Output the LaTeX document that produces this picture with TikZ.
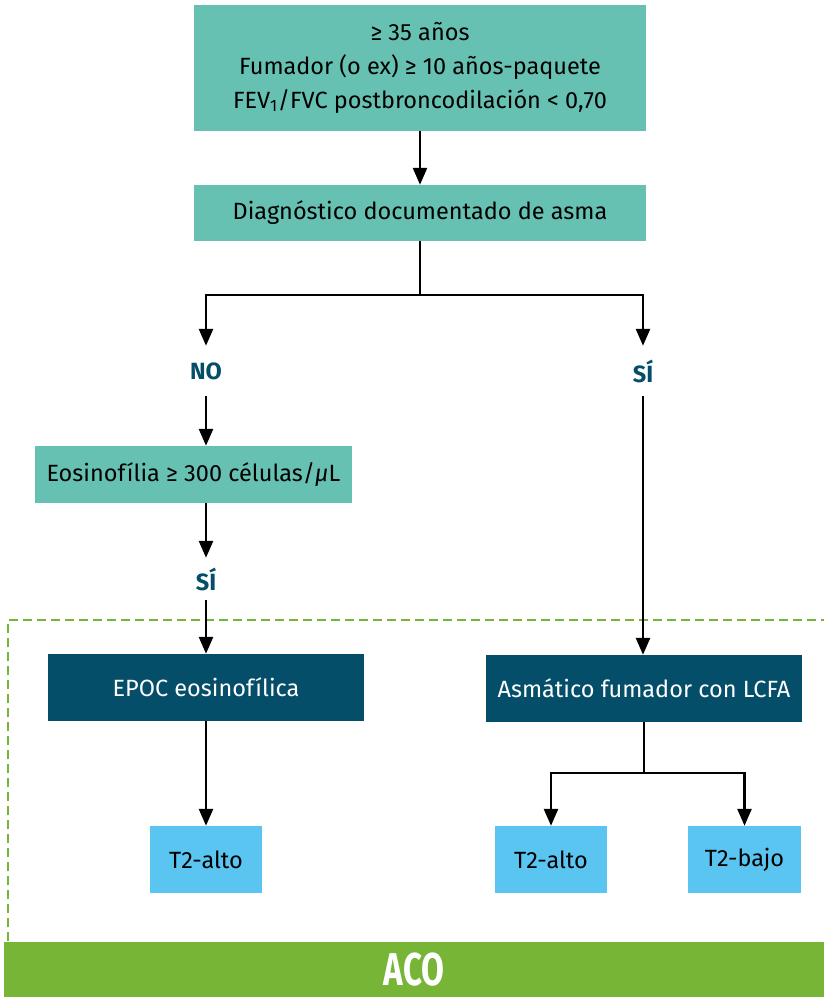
\documentclass[tikz,border=0pt]{standalone}
\usepackage{fontspec}
\setmainfont{Fira Sans}
\usetikzlibrary{arrows.meta,positioning,calc}
\definecolor{tealcol}{HTML}{67C1B3}
\definecolor{darkcol}{HTML}{054E6A}
\definecolor{lightcol}{HTML}{5BC5F2}
\definecolor{acocol}{HTML}{76B535}

\begin{document}
\begin{tikzpicture}[
  x=1pt, y=-1pt,
  txt/.style={font=\fontsize{23.5}{34}\selectfont},
  tbox/.style={txt, fill=tealcol, align=center, inner sep=0pt},
  dbox/.style={txt, fill=darkcol, text=white, inner sep=0pt, minimum height=67pt},
  lbox/.style={txt, fill=lightcol, inner sep=0pt, minimum width=112pt, minimum height=67pt},
  lbl/.style={font=\fontsize{23.5}{33}\selectfont\bfseries, text=darkcol, inner sep=0pt, minimum height=50pt},
  arr/.style={-{Triangle[length=17pt,width=14pt]}, line width=2.6pt},
  ln/.style={line width=2.6pt},
  grp/.style={acocol, line width=2.6pt, dash pattern=on 9pt off 5pt}
]
  \useasboundingbox (0,0) rectangle (824,997);

  % criteria
  \node[tbox, minimum width=452pt, minimum height=126pt, text depth=6pt] (crit) at (420,68)
    {≥ 35 años\\Fumador (o ex) ≥ 10 años-paquete\\FEV\textsubscript{1}/FVC postbroncodilación < 0,70};
  \node[tbox, minimum width=452pt, minimum height=56pt] (diag) at (420,213)
    {Diagnóstico documentado de asma};
  \draw[arr] (crit) -- (diag);

  % branches
  \node[lbl] (no) at (206,371) {NO};
  \node[lbl] (si) at (643,371) {SÍ};
  \coordinate (split) at (420,295);
  \draw[ln] (diag.south) -- (split);
  \draw[arr] (split) -| (no.north);
  \draw[arr] (split) -| (si.north);

  % left
  \node[tbox, minimum width=317pt, minimum height=57pt] (eos) at (193.5,474.5)
    {Eosinofília ≥ 300 células/\textit{μ}L};
  \draw[arr] (no.south) -- (no.south |- eos.north);
  \node[lbl, minimum height=42pt] (si2) at (206,579) {SÍ};
  \draw[arr] (si2.north |- eos.south) -- (si2.north);

  % ACO group
  \draw[grp] (8,941) -- (8,620) -- (824,620);
  \node[dbox, minimum width=316pt] (epoc) at (206,687.5) {EPOC eosinofílica};
  \node[dbox, minimum width=316pt] (asm) at (644,688.5) {Asmático fumador con LCFA};
  \draw[arr] (si2.south) -- (epoc.north);
  \draw[arr] (si.south) -- (si.south |- asm.north);

  \node[lbox] (la) at (206,859.5) {T2-alto};
  \node[lbox] (ra) at (551,859.5) {T2-alto};
  \node[lbox, minimum width=113pt] (rb) at (744.5,859.5) {T2-bajo};
  \draw[arr] (epoc.south) -- (la.north);
  \coordinate (split2) at (644,773);
  \draw[ln] (asm.south) -- (split2);
  \draw[arr] (split2) -| (ra.north);
  \draw[arr] (split2) -| (rb.north);

  \node[fill=acocol, text=white, minimum width=820pt, minimum height=55pt, inner sep=0pt,
    font=\fontsize{46}{46}\selectfont\bfseries] (aco) at (414,969.5) {\scalebox{0.72}[1]{ACO}};
\end{tikzpicture}
\end{document}
